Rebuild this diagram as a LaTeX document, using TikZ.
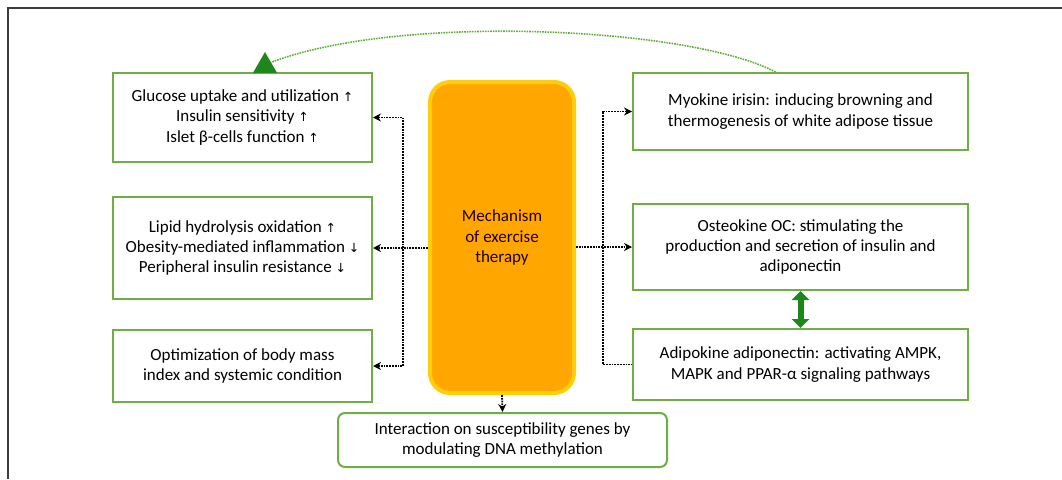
\documentclass[tikz,border=0pt]{standalone}
\usepackage{fontspec}
\setmainfont{Carlito}
\newfontfamily\arrowfont{DejaVu Sans}
\usetikzlibrary{arrows.meta,shapes.geometric}
\definecolor{boxgreen}{RGB}{112,173,71}
\definecolor{darkgreen}{RGB}{30,135,25}
\definecolor{curvegreen}{RGB}{95,175,60}
\definecolor{mechfill}{RGB}{255,166,0}
\definecolor{mechborder}{RGB}{255,206,10}
\definecolor{framegray}{RGB}{60,60,60}
\newcommand{\upar}{{\arrowfont\fontsize{12.5}{12.5}\selectfont ↑}}
\newcommand{\dnar}{{\arrowfont\fontsize{12.5}{12.5}\selectfont ↓}}
\tikzset{
  box/.style={draw=boxgreen,line width=2pt,align=center,inner sep=0pt,
    font=\fontsize{17}{20.3}\selectfont},
  leftbox/.style={box,minimum width=259pt},
  rightbox/.style={box,minimum width=335pt},
  mechbox/.style={draw=mechborder,fill=mechfill,line width=4pt,rounded corners=20pt,
    minimum width=144pt,minimum height=311pt,align=center,
    font=\fontsize{17}{20.3}\selectfont,text=black!85!red},
  conn/.style={densely dotted,line width=1.8pt,>={Stealth[length=8pt,width=8pt]}},
  tri/.style={regular polygon,regular polygon sides=3,fill=darkgreen,inner sep=0pt,minimum size=27.7pt}
}
\begin{document}
\begin{tikzpicture}[x=1pt,y=-1pt]
   \useasboundingbox (0,0) rectangle (1062,479);
   \draw[framegray,line width=2pt] (8,479) -- (8,8) -- (1062,8);

   \node[mechbox] (mech) at (502,237.5) {Mechanism\\of exercise\\therapy};

   \node[leftbox,minimum height=89pt] (glu) at (242.5,117.5)
     {Glucose uptake and utilization \upar\\Insulin sensitivity \upar\\Islet β-cells function \upar};
   \node[leftbox,minimum height=102pt] (lipid) at (242.5,248)
     {Lipid hydrolysis oxidation \upar\\Obesity-mediated inflammation \dnar\\Peripheral insulin resistance \dnar};
   \node[leftbox,minimum height=72pt] (opt) at (242.5,366)
     {Optimization of body mass\\index and systemic condition};

   \node[rightbox,minimum height=77pt] (myo) at (800.5,111.5)
     {Myokine irisin: inducing browning and\\thermogenesis of white adipose tissue};
   \node[rightbox,minimum height=86pt] (osteo) at (800.5,247)
     {Osteokine OC: stimulating the\\production and secretion of insulin and\\adiponectin};
   \node[rightbox,minimum height=71pt] (adipo) at (800.5,364.5)
     {Adipokine adiponectin: activating AMPK,\\MAPK and PPAR-α signaling pathways};

   \node[box,rounded corners=7pt,minimum width=329pt,minimum height=54pt] (inter) at (502.5,440)
     {Interaction on susceptibility genes by\\modulating DNA methylation};

   \node[tri] (tip) at (265,65.9) {};

   \draw[conn,<->] (glu.east) -- ++(30,0) |- (opt.east);
   \draw[conn,->] (mech.west |- lipid.east) -- (lipid.east);
   \draw[conn,<-] (myo.west) -- ++(-29,0) |- (adipo.west);
   \draw[conn,->] (mech.east |- osteo.west) -- (osteo.west);
   \draw[conn,->] (mech.south) -- (inter.north);

   \draw[darkgreen,line width=6pt,{Triangle[width=17pt,length=9pt]}-{Triangle[width=17pt,length=9pt]}]
     (osteo.south) -- (adipo.north);

   \draw[curvegreen,densely dotted,line width=1.6pt]
     ([xshift=-25pt]myo.north) .. controls (690,27) and (400,13) .. (tip.30);
\end{tikzpicture}
\end{document}
